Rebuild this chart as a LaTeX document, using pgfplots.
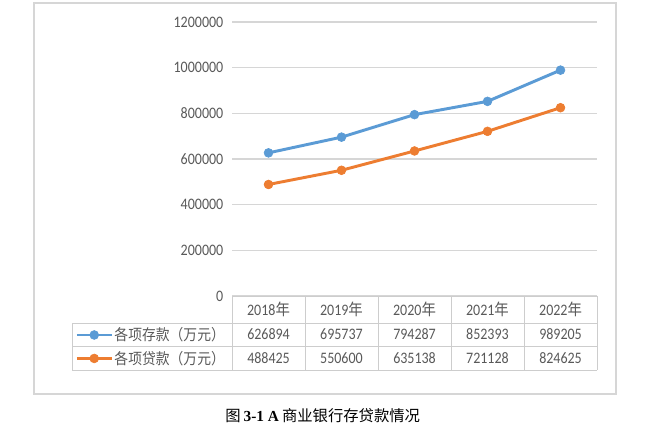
\documentclass[border=0pt]{standalone}
\usepackage{pgfplots}
\pgfplotsset{compat=1.18}
\usepackage{fontspec}
\setmainfont{Carlito}[FakeStretch=0.875]
\newfontfamily\cjk{Noto Sans CJK SC}[FakeStretch=0.9]
\newfontfamily\capcjk{Noto Sans CJK SC}
\newfontfamily\capserif{Liberation Serif}
\definecolor{sblue}{RGB}{91,155,213}
\definecolor{sorange}{RGB}{237,125,49}
\definecolor{txtgray}{RGB}{89,89,89}
\definecolor{gridgray}{RGB}{214,214,214}
\definecolor{tblgray}{RGB}{205,205,205}
\begin{document}
\begin{tikzpicture}
\useasboundingbox (0,0) rectangle (486pt,324pt);
\draw[gridgray, line width=1.1pt] (25.5pt,28.5pt) rectangle (462pt,321.75pt);
\begin{axis}[
  at={(174pt,102pt)}, anchor=south west,
  scale only axis, width=273.75pt, height=205.5pt,
  xmin=-0.5, xmax=4.5, ymin=0, ymax=1200000,
  xtick=\empty,
  ytick={0,200000,400000,600000,800000,1000000,1200000},
  scaled y ticks=false,
  /pgf/number format/assume math mode=true,
  yticklabel style={/pgf/number format/fixed, /pgf/number format/1000 sep={}, font=\fontsize{12}{14}\selectfont, text=txtgray, xshift=-3pt},
  major tick length=0pt,
  ymajorgrids, grid style={gridgray, line width=0.9pt},
  axis line style={draw=none},
  clip=false,
  legend image code/.code={\draw[mark repeat=2,mark phase=2,#1] plot coordinates {(0cm,0cm) (0.46cm,0cm) (0.92cm,0cm)};},
  legend style={at={(-0.430,-0.0985)}, anchor=north west, draw=none, fill=none, inner sep=0pt, row sep=0pt, column sep=0pt,
    font=\cjk\fontsize{11.5}{13}\selectfont, text=txtgray, nodes={inner sep=1pt, minimum height=17.6pt}},
  legend cell align=left,
]
\addplot[sblue, line width=2.2pt, mark=*, mark size=3.3pt, mark options={fill=sblue, draw=sblue, line width=0.5pt}]
  coordinates {(0,626894) (1,695737) (2,794287) (3,852393) (4,989205)};
\addlegendentry{各项存款（万元）}
\addplot[sorange, line width=2.2pt, mark=*, mark size=3.3pt, mark options={fill=sorange, draw=sorange, line width=0.5pt}]
  coordinates {(0,488425) (1,550600) (2,635138) (3,721128) (4,824625)};
\addlegendentry{各项贷款（万元）}
\end{axis}
% data table
\begin{scope}[tblgray, line width=0.75pt]
\draw (174pt,102pt) -- (447.75pt,102pt);
\draw (54pt,81.75pt) -- (447.75pt,81.75pt);
\draw (54pt,64.5pt) -- (447.75pt,64.5pt);
\draw (54pt,46.5pt) -- (447.75pt,46.5pt);
\draw (54pt,81.75pt) -- (54pt,46.5pt);
\foreach \k in {0,1,2,3,4,5} {\draw ({174pt+54.75pt*\k},102pt) -- ({174pt+54.75pt*\k},46.5pt);}
\end{scope}
\begin{scope}[every node/.style={text=txtgray, font=\fontsize{12}{14}\selectfont, inner sep=0pt}]
\node at (201.4pt,91.9pt) {2018{\cjk 年}};
\node at (256.1pt,91.9pt) {2019{\cjk 年}};
\node at (310.9pt,91.9pt) {2020{\cjk 年}};
\node at (365.6pt,91.9pt) {2021{\cjk 年}};
\node at (420.4pt,91.9pt) {2022{\cjk 年}};
\node at (201.4pt,73.1pt) {626894};
\node at (256.1pt,73.1pt) {695737};
\node at (310.9pt,73.1pt) {794287};
\node at (365.6pt,73.1pt) {852393};
\node at (420.4pt,73.1pt) {989205};
\node at (201.4pt,55.5pt) {488425};
\node at (256.1pt,55.5pt) {550600};
\node at (310.9pt,55.5pt) {635138};
\node at (365.6pt,55.5pt) {721128};
\node at (420.4pt,55.5pt) {824625};
\end{scope}
\node[font=\fontsize{11.5}{13}\selectfont, inner sep=0pt] at (242pt,12pt) {{\capcjk 图} {\capserif\bfseries 3-1 A} {\capcjk 商业银行存贷款情况}};
\end{tikzpicture}
\end{document}
